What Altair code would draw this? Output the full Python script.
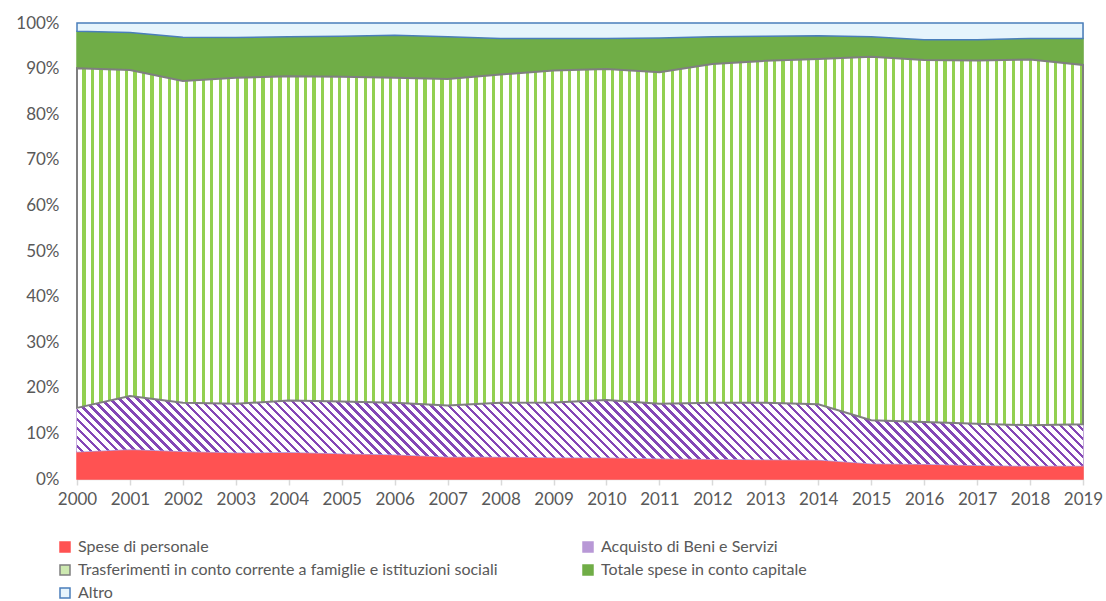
import altair as alt
import pandas as pd

years = list(range(2000, 2020))
series = [
    "Spese di personale",
    "Acquisto di Beni e Servizi",
    "Trasferimenti in conto corrente a famiglie e istituzioni sociali",
    "Totale spese in conto capitale",
    "Altro",
]
personale = [6.0, 6.5, 6.1, 5.8, 5.9, 5.6, 5.4, 4.9, 4.9, 4.7,
             4.7, 4.5, 4.4, 4.3, 4.2, 3.4, 3.3, 3.0, 2.9, 2.9]
acquisto = [9.6, 11.7, 10.6, 10.7, 11.3, 11.4, 11.3, 11.2, 11.8, 12.1,
            12.6, 12.0, 12.3, 12.4, 12.2, 9.5, 9.2, 9.1, 8.9, 9.1]
trasferimenti = [74.5, 71.5, 70.6, 71.5, 71.1, 71.2, 71.3, 71.6, 72.0, 72.8,
                 72.6, 72.7, 74.3, 75.0, 75.7, 79.7, 79.4, 79.7, 80.2, 78.8]
capitale = [8.1, 8.2, 9.6, 8.8, 8.7, 8.9, 9.3, 9.3, 7.9, 7.0,
            6.7, 7.5, 6.0, 5.4, 5.1, 4.4, 4.4, 4.5, 4.6, 5.8]
altro = [1.8, 2.1, 3.1, 3.2, 3.0, 2.9, 2.7, 3.0, 3.4, 3.4,
         3.4, 3.3, 3.0, 2.9, 2.8, 3.0, 3.7, 3.7, 3.4, 3.4]
y_ticks = [0, 10, 20, 30, 40, 50, 60, 70, 80, 90, 100]

values = [personale, acquisto, trasferimenti, capitale, altro]
rows = []
for k, (name, vals) in enumerate(zip(series, values)):
    for yr, v in zip(years, vals):
        rows.append({"anno": yr, "voce": name, "valore": v, "ordine": k})
df = pd.DataFrame(rows)

W, H = 1006, 456
FONT = "Lato"
TXT = "#595959"

fill_map = {
    series[0]: "#ff5252",
    series[1]: "#b898d6",
    series[2]: "#cde9b0",
    series[3]: "#70ad47",
    series[4]: "#e6f4fc",
}
stroke_map = {
    series[0]: "#ff5252",
    series[1]: "#b898d6",
    series[2]: "#7f7f7f",
    series[3]: "#70ad47",
    series[4]: "#4a7ebb",
}
# legend is laid out column by column: this order gives the reference rows
legend_order = [series[0], series[2], series[4], series[1], series[3]]
fill_range = [fill_map[s] for s in legend_order]
stroke_range = [stroke_map[s] for s in legend_order]

# vertical stripes (green on white) for Trasferimenti
n_v = 118
v_stops = []
for i in range(n_v):
    a = i / n_v
    b = (i + 0.62) / n_v
    c = (i + 1) / n_v
    v_stops += [
        {"offset": a, "color": "#ffffff"},
        {"offset": b, "color": "#ffffff"},
        {"offset": b, "color": "#92d050"},
        {"offset": c, "color": "#92d050"},
    ]
v_grad = {"gradient": "linear", "x1": 0, "y1": 0, "x2": 1, "y2": 0, "stops": v_stops}

# diagonal stripes (purple on white) for Acquisto
top2 = [p + a for p, a in zip(personale, acquisto)]
bw = float(W)
bh = (max(top2) - min(personale)) / 100.0 * H
kk = (bw + bh) / (bw * bw + bh * bh)
gx2 = bw * kk
gy2 = 1 - bh * kk
n_d = int(round((bw + bh) / 9.0))
d_stops = []
for i in range(n_d):
    a = i / n_d
    b = (i + 0.38) / n_d
    d = (i + 1) / n_d
    d_stops += [
        {"offset": a, "color": "#8447b6"},
        {"offset": b, "color": "#8447b6"},
        {"offset": b, "color": "#ffffff"},
        {"offset": d, "color": "#ffffff"},
    ]
d_grad = {"gradient": "linear", "x1": 0, "y1": 1, "x2": gx2, "y2": gy2, "stops": d_stops}

base = alt.Chart(df).transform_stack(
    stack="valore",
    groupby=["anno"],
    as_=["y0", "y1"],
    sort=[alt.SortField("ordine", order="ascending")],
)

x_enc = alt.X(
    "anno:Q",
    scale=alt.Scale(domain=[2000, 2019], nice=False, zero=False),
    axis=alt.Axis(
        values=years, format="d", title=None, grid=False,
        labelFont=FONT, labelFontSize=17, labelColor=TXT, labelPadding=6,
        tickColor="#d9d9d9", tickSize=6, tickWidth=1.5,
        domainColor="#d9d9d9", domainWidth=1.5, labelFlush=False,
    ),
)
y_enc = alt.Y(
    "y1:Q",
    scale=alt.Scale(domain=[0, 100], nice=False),
    axis=alt.Axis(
        values=y_ticks, labelExpr="datum.value + '%'", title=None, grid=False,
        ticks=False, domain=False, labelFont=FONT, labelFontSize=17,
        labelColor=TXT, labelPadding=18,
    ),
)

legend = alt.Legend(
    title=None, orient="none", legendX=-20, legendY=516, columns=2,
    columnPadding=82, rowPadding=7, symbolType="square", symbolSize=100,
    symbolStrokeWidth=1.5, labelFont=FONT, labelFontSize=16, labelColor=TXT,
    labelLimit=800, labelOffset=5,
)

base_area = base.mark_area(strokeWidth=1.5).encode(
    x=x_enc,
    y=y_enc,
    y2="y0:Q",
    color=alt.Color("voce:N", scale=alt.Scale(domain=legend_order, range=fill_range),
                    legend=legend, sort=legend_order),
    stroke=alt.Stroke("voce:N", scale=alt.Scale(domain=legend_order, range=stroke_range),
                      legend=legend, sort=legend_order),
    order=alt.Order("ordine:Q"),
)

acq_layer = base.transform_filter(alt.datum.voce == series[1]).mark_area(
    fill=d_grad, strokeWidth=0
).encode(x="anno:Q", y="y1:Q", y2="y0:Q")

tra_layer = base.transform_filter(alt.datum.voce == series[2]).mark_area(
    fill=v_grad, stroke="#7f7f7f", strokeWidth=2
).encode(x="anno:Q", y="y1:Q", y2="y0:Q")

chart = alt.layer(base_area, acq_layer, tra_layer).properties(
    width=W, height=H,
    autosize=alt.AutoSizeParams(type="none"),
    padding={"left": 77, "top": 23, "right": 23, "bottom": 122},
).configure_view(stroke=None).configure(background="white")

chart.save("out.html", embed_options={"renderer": "svg", "actions": False})
